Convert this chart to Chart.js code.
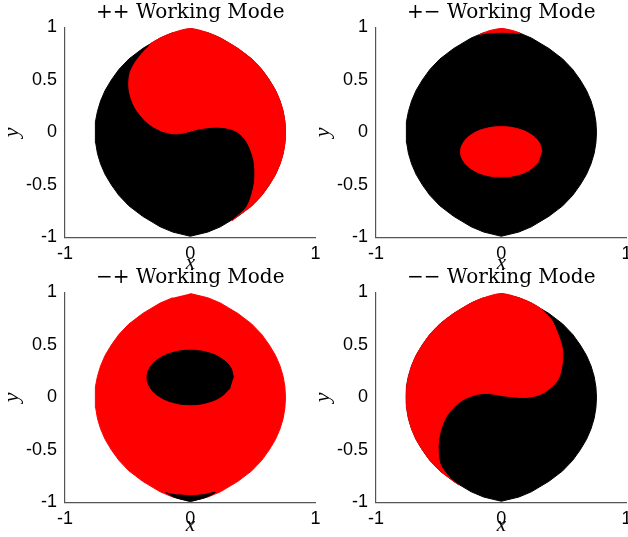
<!DOCTYPE html>
<html>
<head>
<meta charset="utf-8">
<script src="https://cdn.jsdelivr.net/npm/chart.js@4/dist/chart.umd.min.js"></script>
<style>
  html, body { margin: 0; padding: 0; background: #fff; overflow: hidden; }
  #wrap { position: relative; width: 628px; height: 537px; overflow: hidden; }
  canvas { position: absolute; }
</style>
</head>
<body>
<div id="wrap">
  <canvas id="pp" width="381" height="271" style="left:0px;top:0px"></canvas>
  <canvas id="pm" width="381" height="271" style="left:311px;top:0px"></canvas>
  <canvas id="mp" width="381" height="268" style="left:0px;top:265px"></canvas>
  <canvas id="mm" width="381" height="268" style="left:311px;top:265px"></canvas>
</div>
<script>
// panel titles
const titles = ['++ Working Mode', '+\u2212 Working Mode', '\u2212+ Working Mode', '\u2212\u2212 Working Mode'];
const xTicks = [-1, 0, 1];
const yTicks = [-1, -0.5, 0, 0.5, 1];

// outer boundary of the workspace (same in all four panels)
const outerX = [0, 0.14, 0.24, 0.38, 0.49, 0.57, 0.63, 0.68, 0.716, 0.741, 0.755, 0.76, 0.755, 0.741, 0.716, 0.68, 0.63, 0.57, 0.49, 0.38, 0.24, 0.14,
                0, -0.14, -0.24, -0.38, -0.49, -0.57, -0.63, -0.68, -0.716, -0.741, -0.755, -0.76, -0.755, -0.741, -0.716, -0.68, -0.63, -0.57, -0.49, -0.38, -0.24, -0.14];
const outerY = [0.99, 0.95, 0.9, 0.8, 0.7, 0.6, 0.5, 0.4, 0.3, 0.2, 0.1, 0, -0.1, -0.2, -0.3, -0.4, -0.5, -0.6, -0.7, -0.8, -0.9, -0.95,
                -0.99, -0.95, -0.9, -0.8, -0.7, -0.6, -0.5, -0.4, -0.3, -0.2, -0.1, 0, 0.1, 0.2, 0.3, 0.4, 0.5, 0.6, 0.7, 0.8, 0.9, 0.95];

// ++ : red upper-right part
const ppRedX = [-0.32, -0.24, -0.14, 0, 0.14, 0.24, 0.38, 0.49, 0.57, 0.63, 0.68, 0.716, 0.741, 0.755, 0.76, 0.755, 0.741, 0.716, 0.68, 0.63, 0.57, 0.49, 0.40, 0.335,
                0.45, 0.50, 0.515, 0.507, 0.46, 0.395, 0.315, 0.21, 0.076, -0.057, -0.137, -0.243, -0.35, -0.443, -0.488, -0.483, -0.43, -0.35];
const ppRedY = [0.845, 0.9, 0.95, 0.99, 0.95, 0.9, 0.8, 0.7, 0.6, 0.5, 0.4, 0.3, 0.2, 0.1, 0, -0.1, -0.2, -0.3, -0.4, -0.5, -0.6, -0.7, -0.78, -0.84,
                -0.71, -0.55, -0.425, -0.267, -0.11, -0.013, 0.035, 0.05, 0.035, -0.006, -0.013, 0.02, 0.1, 0.24, 0.4, 0.56, 0.686, 0.8];

// +- : red ellipse and thin red cap at the top
const pmEllX = [0.325, 0.30, 0.23, 0.124, 0, -0.124, -0.23, -0.30, -0.325, -0.30, -0.23, -0.124, 0, 0.124, 0.23, 0.30];
const pmEllY = [-0.185, -0.093, -0.015, 0.037, 0.055, 0.037, -0.015, -0.093, -0.185, -0.277, -0.355, -0.407, -0.425, -0.407, -0.355, -0.277];
const pmCapX = [-0.18, -0.12, -0.06, 0, 0.06, 0.12, 0.15, 0.08, 0, -0.08];
const pmCapY = [0.93, 0.96, 0.98, 0.99, 0.98, 0.96, 0.945, 0.95, 0.955, 0.948];

// -+ : black ellipse and thin black crescent at the bottom
const mpEllX = [0.345, 0.319, 0.244, 0.132, 0, -0.132, -0.244, -0.319, -0.345, -0.319, -0.244, -0.132, 0, 0.132, 0.244, 0.319];
const mpEllY = [0.19, 0.29, 0.374, 0.43, 0.45, 0.43, 0.374, 0.29, 0.19, 0.09, 0.006, -0.05, -0.07, -0.05, 0.006, 0.09];
const mpCapX = [-0.2, -0.12, -0.06, 0, 0.06, 0.12, 0.2, 0.1, 0, -0.1];
const mpCapY = [-0.905, -0.955, -0.975, -0.99, -0.975, -0.955, -0.905, -0.928, -0.937, -0.928];

// -- : red upper-left part
const mmRedX = [-0.34, -0.38, -0.49, -0.57, -0.63, -0.68, -0.716, -0.741, -0.755, -0.76, -0.755, -0.741, -0.716, -0.68, -0.63, -0.57, -0.49, -0.38, -0.24, -0.14, 0, 0.14, 0.24, 0.315,
                0.40, 0.45, 0.485, 0.49, 0.45, 0.33, 0.2, 0.04, -0.147, -0.31, -0.44, -0.5, -0.49, -0.41];
const mmRedY = [-0.835, -0.8, -0.7, -0.6, -0.5, -0.4, -0.3, -0.2, -0.1, 0, 0.1, 0.2, 0.3, 0.4, 0.5, 0.6, 0.7, 0.8, 0.9, 0.95, 0.99, 0.95, 0.9, 0.845,
                0.74, 0.61, 0.48, 0.355, 0.165, 0.038, 0, 0.012, 0.038, -0.026, -0.185, -0.405, -0.63, -0.77];

const RED = '#ff0000';
const BLACK = '#000000';

function pts(xs, ys) {
    return xs.map(function (x, i) { return {x: x, y: ys[i]}; });
}

function shape(xs, ys, color, order, tension) {
    return {
        data: pts(xs, ys),
        showLine: true,
        fill: 'shape',
        backgroundColor: color,
        borderColor: color,
        borderWidth: 1,
        pointRadius: 0,
        tension: tension,
        order: order
    };
}

function makePanel(id, title, datasets) {
    const canvas = document.getElementById(id);
    const xHeight = canvas.height - 237.3;
    const tickFont = {family: 'Liberation Sans', size: 18};
    return new Chart(canvas, {
        type: 'scatter',
        data: {datasets: datasets},
        options: {
            responsive: false,
            animation: false,
            layout: {padding: {left: 0, right: 65.4, top: 0, bottom: 0}},
            plugins: {
                legend: {display: false},
                tooltip: {enabled: false},
                title: {
                    display: true,
                    fullSize: false,
                    text: title,
                    color: '#000',
                    font: {family: 'DejaVu Serif', size: 20, weight: 'normal', lineHeight: 1.1},
                    padding: {top: 1.5, bottom: 4}
                }
            },
            scales: {
                x: {
                    type: 'linear', min: -1, max: 1,
                    afterBuildTicks: function (s) { s.ticks = xTicks.map(function (v) { return {value: v}; }); },
                    ticks: {color: '#000', padding: 6, font: tickFont, callback: function (v) { return String(v); }},
                    grid: {display: false, drawTicks: false},
                    border: {display: true, color: '#555', width: 1.2},
                    title: {display: true, text: 'x', color: '#000', font: {family: 'Liberation Serif', style: 'italic', size: 21, lineHeight: 0.7}, padding: 0},
                    afterFit: function (s) { s.height = xHeight; }
                },
                y: {
                    type: 'linear', min: -1, max: 1,
                    afterBuildTicks: function (s) { s.ticks = yTicks.map(function (v) { return {value: v}; }); },
                    ticks: {color: '#000', padding: 8, font: tickFont, callback: function (v) { return String(v); }},
                    grid: {display: false, drawTicks: false},
                    border: {display: true, color: '#555', width: 1.2},
                    title: {display: true, text: 'y', color: '#000', font: {family: 'Liberation Serif', style: 'italic', size: 22, lineHeight: 1}, padding: {top: 1}},
                    afterFit: function (s) { s.width = 65; }
                }
            }
        }
    });
}

makePanel('pp', titles[0], [
    shape(outerX, outerY, BLACK, 2, 0),
    shape(ppRedX, ppRedY, RED, 1, 0.3)
]);
makePanel('pm', titles[1], [
    shape(outerX, outerY, BLACK, 2, 0),
    shape(pmEllX, pmEllY, RED, 1, 0.4),
    shape(pmCapX, pmCapY, RED, 1, 0.3)
]);
makePanel('mp', titles[2], [
    shape(outerX, outerY, RED, 2, 0),
    shape(mpEllX, mpEllY, BLACK, 1, 0.4),
    shape(mpCapX, mpCapY, BLACK, 1, 0.3)
]);
makePanel('mm', titles[3], [
    shape(outerX, outerY, BLACK, 2, 0),
    shape(mmRedX, mmRedY, RED, 1, 0.3)
]);
</script>
</body>
</html>
